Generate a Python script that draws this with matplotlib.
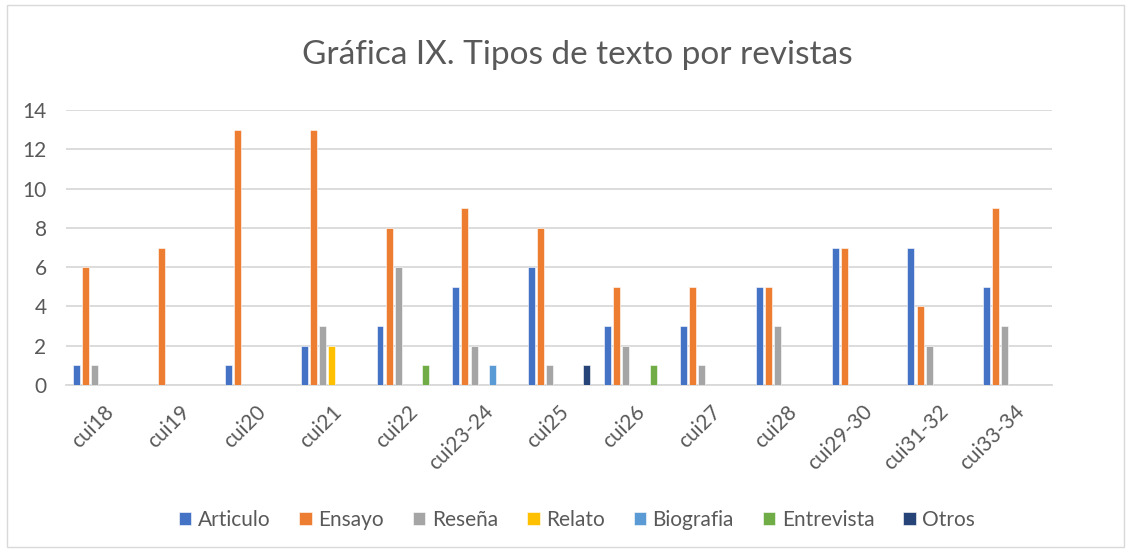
import numpy as np
import matplotlib
matplotlib.use('Agg')
import matplotlib.pyplot as plt
from matplotlib.patches import Rectangle

plt.rcParams['font.family'] = ['Lato', 'DejaVu Sans']

revistas = ['cui18', 'cui19', 'cui20', 'cui21', 'cui22', 'cui23-24', 'cui25',
            'cui26', 'cui27', 'cui28', 'cui29-30', 'cui31-32', 'cui33-34']
series = ['Articulo', 'Ensayo', 'Reseña', 'Relato', 'Biografia', 'Entrevista', 'Otros']
colores = ['#4472C4', '#ED7D31', '#A5A5A5', '#FFC000', '#5B9BD5', '#70AD47', '#264478']

articulo   = [1, 0, 1, 2, 3, 5, 6, 3, 3, 5, 7, 7, 5]
ensayo     = [6, 7, 13, 13, 8, 9, 8, 5, 5, 5, 7, 4, 9]
resena     = [1, 0, 0, 3, 6, 2, 1, 2, 1, 3, 0, 2, 3]
relato     = [0, 0, 0, 2, 0, 0, 0, 0, 0, 0, 0, 0, 0]
biografia  = [0, 0, 0, 0, 0, 1, 0, 0, 0, 0, 0, 0, 0]
entrevista = [0, 0, 0, 0, 1, 0, 0, 1, 0, 0, 0, 0, 0]
otros      = [0, 0, 0, 0, 0, 0, 1, 0, 0, 0, 0, 0, 0]
valores = [articulo, ensayo, resena, relato, biografia, entrevista, otros]

fig = plt.figure(figsize=(11.31, 5.52), dpi=100)
ax = fig.add_axes([66/1131, 1-385/552, (1052-66)/1131, (385-110)/552])

x = np.arange(len(revistas))
slot = 0.12
ancho = 0.092
for i, (nom, col, v) in enumerate(zip(series, colores, valores)):
    ax.bar(x + (i - 3) * slot, v, width=ancho, color=col, label=nom, zorder=3,
           edgecolor='white', linewidth=0.4)

ax.set_xlim(-0.5, len(revistas) - 0.5)
ax.set_ylim(0, 14)
ax.set_yticks(range(0, 15, 2))
ax.yaxis.grid(True, color='#d9d9d9', linewidth=1.3, zorder=0)
for s in ['top', 'right', 'left']:
    ax.spines[s].set_visible(False)
ax.spines['bottom'].set_color('#d9d9d9')
ax.spines['bottom'].set_linewidth(1.3)
ax.tick_params(axis='both', length=0, colors='#595959', labelsize=15)
ax.tick_params(axis='y', pad=14)
ax.set_xticks(x)
ax.set_xticklabels(revistas, rotation=45, ha='right', rotation_mode='anchor')
ax.tick_params(axis='x', pad=12)

fig.text(577/1131, 1-55/552, 'Gráfica IX. Tipos de texto por revistas',
         ha='center', va='center', fontsize=24, color='#595959')

ax.legend(loc='center', bbox_to_anchor=(577/1131, 1-520/552),
          bbox_transform=fig.transFigure, ncol=7, frameon=False,
          fontsize=15, labelcolor='#595959', handlelength=0.6, handleheight=0.6,
          handletextpad=0.3, columnspacing=1.4)

fig.patches.append(Rectangle((7/1131, 5/552), 1 - 14/1131, 1 - 10/552,
                             transform=fig.transFigure, fill=False,
                             edgecolor='#d9d9d9', linewidth=1))

fig.savefig('out.png', dpi=100)
